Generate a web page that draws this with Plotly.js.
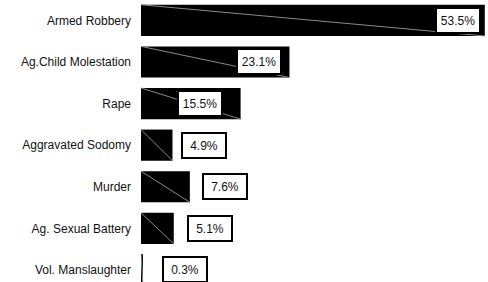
<!DOCTYPE html>
<html>
<head>
<meta charset="utf-8">
<script src="https://cdn.plot.ly/plotly-3.0.1.min.js"></script>
<style>html,body{margin:0;padding:0;background:#fff;}#chart{width:488px;height:282px;}</style>
</head>
<body>
<div id="chart"></div>
<script>
// ---- data ----
const categories = ["Armed Robbery", "Ag.Child Molestation", "Rape", "Aggravated Sodomy", "Murder", "Ag. Sexual Battery", "Vol. Manslaughter"];
const values = [53.5, 23.1, 15.5, 4.9, 7.6, 5.1, 0.3];
const valueLabels = ["53.5%", "23.1%", "15.5%", "4.9%", "7.6%", "5.1%", "0.3%"];

// ---- layout helpers (pixel offsets of label boxes from bar ends) ----
const labelShift = [-27, -30, -41, 32, 35, 36, 42];
const insideLabel = [true, true, true, false, false, false, false];
const barFrac = 0.75;

const trace = {
  type: 'bar',
  orientation: 'h',
  x: values,
  y: categories,
  marker: {color: '#000000', line: {width: 0}},
  width: barFrac,
  hoverinfo: 'none'
};

const shapes = [];
const annotations = [];
categories.forEach((c, i) => {
  shapes.push({
    type: 'line', xref: 'x', yref: 'y',
    x0: 0, x1: values[i],
    y0: i - barFrac / 2, y1: i + barFrac / 2,
    line: {color: '#8a8a8a', width: 1},
    layer: 'above'
  });
  annotations.push({
    x: values[i], y: c, xref: 'x', yref: 'y',
    text: valueLabels[i], showarrow: false,
    xanchor: 'center', yanchor: 'middle',
    xshift: labelShift[i],
    font: {family: 'Liberation Sans, Arial, sans-serif', size: 12, color: '#111'},
    bgcolor: '#ffffff', bordercolor: '#000000', borderwidth: 2,
    borderpad: 2, width: 38, height: 19
  });
});
categories.forEach((c, i) => {
  if (!insideLabel[i]) return;
  shapes.push({
    type: 'line', xref: 'x', yref: 'y',
    xsizemode: 'pixel', ysizemode: 'pixel',
    xanchor: values[i], yanchor: i,
    x0: labelShift[i] - 23, x1: labelShift[i] + 23,
    y0: 12, y1: -12,
    line: {color: '#c8c8c8', width: 1},
    layer: 'above'
  });
});

const layout = {
  width: 488, height: 282,
  margin: {l: 141, r: 0, t: 0, b: 0, pad: 0},
  paper_bgcolor: '#ffffff', plot_bgcolor: '#ffffff',
  showlegend: false,
  font: {family: 'Liberation Sans, Arial, sans-serif', size: 12, color: '#111'},
  xaxis: {range: [0, 54], showticklabels: false, showgrid: false, zeroline: false, showline: false, ticks: ''},
  yaxis: {
    type: 'category', range: [6.29, -0.49],
    showgrid: false, zeroline: false, showline: false, ticks: '',
    ticklabelstandoff: 9,
    tickfont: {family: 'Liberation Sans, Arial, sans-serif', size: 12, color: '#111'}
  },
  bargap: 0.25,
  shapes: shapes,
  annotations: annotations
};

Plotly.newPlot('chart', [trace], layout, {staticPlot: true, displayModeBar: false});
</script>
</body>
</html>
